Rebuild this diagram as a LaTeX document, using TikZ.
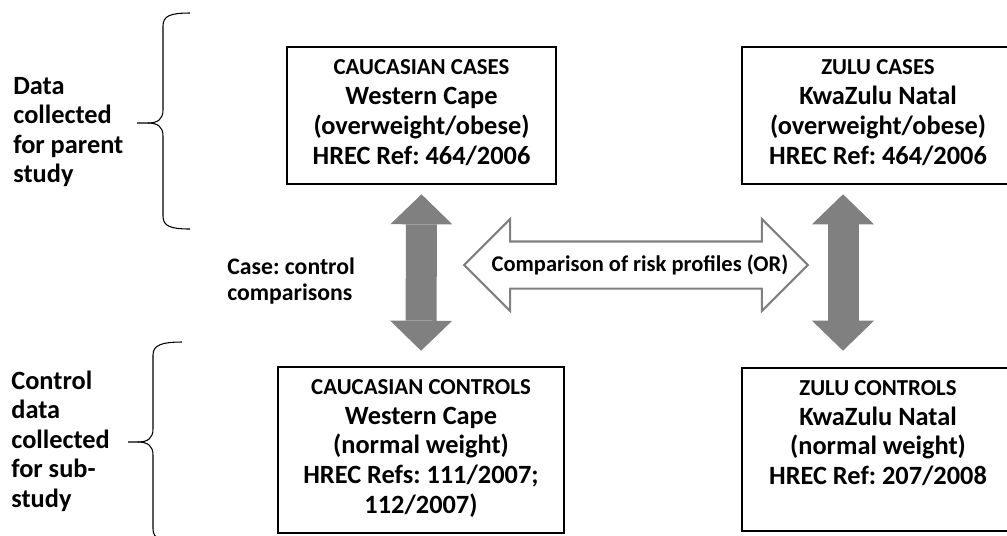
\documentclass[tikz,border=0pt]{standalone}
\usepackage{fontspec}
\setmainfont{Carlito}
\usetikzlibrary{arrows.meta, shapes.arrows}
\frenchspacing

\tikzset{
    box/.style={draw, line width=1.5pt},
    boxtext/.style={anchor=north, align=center, inner sep=0pt, font=\bfseries\fontsize{15}{17}\selectfont},
    sidelabel/.style={anchor=west, align=left, inner sep=0pt, font=\bfseries\fontsize{15}{16.8}\selectfont},
    bigarrow/.style={gray, line width=0.62cm,
        {Triangle[width=1.24cm, length=0.6cm, line width=0pt]}-{Triangle[width=1.24cm, length=0.6cm, line width=0pt]}},
    hollowarrow/.style={double arrow, draw=gray, line width=1.2pt, fill=white,
        double arrow head extend=0.45cm, inner xsep=0pt, inner ysep=0.45cm},
    bracepath/.style={line width=0.6pt}
}

\begin{document}
\begin{tikzpicture}[x=0.02cm, y=-0.02cm]
    \useasboundingbox (0,0) rectangle (1007,535);
    \clip (0,0) rectangle (1007,535);

    % boxes
    \node[box, minimum width=5.38cm, minimum height=2.74cm] (ccase) at (421.5,115.5) {};
    \node[box, minimum width=5.44cm, minimum height=2.74cm] (zcase) at (878,115.5) {};
    \node[box, minimum width=5.72cm, minimum height=3.32cm] (cctrl) at (421,450) {};
    \node[box, minimum width=5.44cm, minimum height=3.26cm] (zctrl) at (878,449.5) {};

    \node[boxtext] (ccasetxt) at ([yshift=-7.8pt]ccase.north)
        {{\fontsize{13}{17}\selectfont CAUCASIAN CASES}\\Western Cape\\(overweight/obese)\\HREC Ref: 464/2006};
    \node[boxtext] (zcasetxt) at ([yshift=-7.8pt]zcase.north)
        {{\fontsize{13}{17}\selectfont ZULU CASES}\\KwaZulu Natal\\(overweight/obese)\\HREC Ref: 464/2006};
    \node[boxtext] (cctrltxt) at ([yshift=-7.5pt]cctrl.north)
        {{\fontsize{13}{17}\selectfont CAUCASIAN CONTROLS}\\Western Cape\\(normal weight)\\HREC Refs: 111/2007;\\112/2007)};
    \node[boxtext] (zctrltxt) at ([yshift=-7.5pt]zctrl.north)
        {{\fontsize{13}{17}\selectfont ZULU CONTROLS}\\KwaZulu Natal\\(normal weight)\\HREC Ref: 207/2008};

    % side labels
    \node[sidelabel] (parent) at (13,132) {Data\\collected\\for parent\\study};
    \node[sidelabel] (sub) at (11,441) {Control\\data\\collected\\for sub-\\study};
    \node[sidelabel, font=\bfseries\fontsize{13.5}{14.8}\selectfont] (casectl) at (227,281) {Case: control\\comparisons};

    % braces
    \draw[bracepath] (190,13) .. controls (170,13) and (163,16) .. (163,26) -- (163,110)
        .. controls (163,119) and (158,123) .. (148,123) -- (137,123);
    \draw[bracepath] (148,123) .. controls (158,123) and (163,127) .. (163,136) -- (163,216)
        .. controls (163,226) and (170,229) .. (190,229);
    \draw[bracepath] (182,342) .. controls (162,342) and (153,345) .. (153,355) -- (153,429)
        .. controls (153,438) and (148,442) .. (138,442) -- (128,442);
    \draw[bracepath] (138,442) .. controls (148,442) and (153,446) .. (153,455) -- (153,529)
        .. controls (153,539) and (162,542) .. (182,542);

    % comparison arrows
    \node[hollowarrow, minimum height=6.88cm] (cmp) at (636,265) {};
    \node[font=\bfseries\fontsize{12.8}{15}\selectfont] (cmptxt) at (640,265) {Comparison of risk profiles (OR)};
    \draw[bigarrow, shorten <=0.18cm, shorten >=0.3cm] (ccase.south) -- (cctrl.north);
    \draw[bigarrow, shorten <=0.18cm, shorten >=0.32cm] ([xshift=-0.7cm]zcase.south) -- ([xshift=-0.7cm]zctrl.north);
\end{tikzpicture}
\end{document}
